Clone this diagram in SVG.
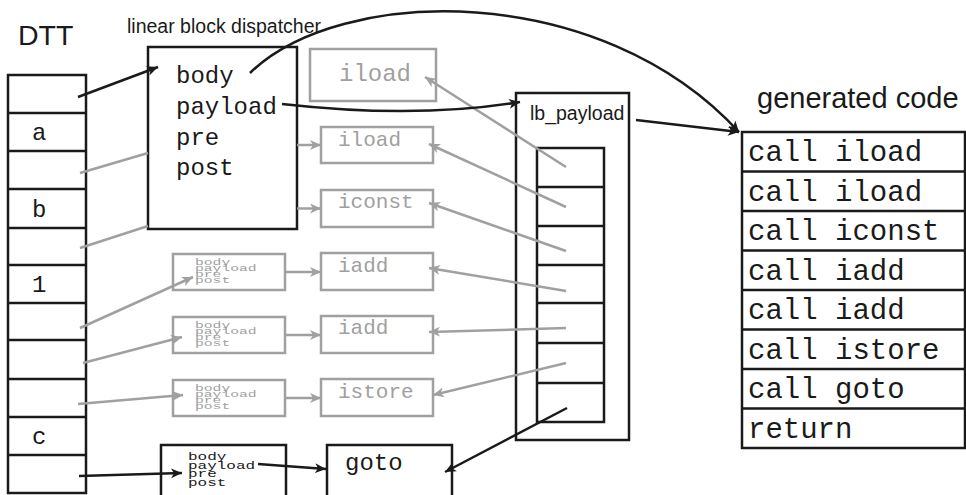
<svg xmlns="http://www.w3.org/2000/svg" width="966" height="495" viewBox="0 0 966 495">
<defs>
<marker id="ab" markerUnits="userSpaceOnUse" markerWidth="14" markerHeight="12" refX="11" refY="5" orient="auto"><path d="M0,0 L11,5 L0,10 L3,5 z" fill="#1a1a1a"/></marker>
<marker id="ag" markerUnits="userSpaceOnUse" markerWidth="14" markerHeight="12" refX="11" refY="5" orient="auto"><path d="M0,0 L11,5 L0,10 L3,5 z" fill="#a0a0a0"/></marker>
</defs>
<style>
.bk{fill:none;stroke:#1a1a1a;stroke-width:2.5}
.gr{fill:none;stroke:#a0a0a0;stroke-width:2.5}
.sans{font-family:"Liberation Sans",Arial,sans-serif;fill:#1a1a1a}
.mono{font-family:"Liberation Mono","Courier New",monospace;fill:#1a1a1a}
.gt{fill:#a0a0a0}
.cb{stroke:#1a1a1a;stroke-width:2.5;fill:none;marker-end:url(#ab)}
.cg{stroke:#a0a0a0;stroke-width:2.5;fill:none;marker-end:url(#ag)}
.lg{stroke:#a0a0a0;stroke-width:2.5;fill:none}
</style>
<rect width="966" height="495" fill="#ffffff"/>

<g id="dtt">
<text class="sans" x="18" y="45" font-size="28.5">DTT</text>
<rect class="bk" x="8" y="75" width="78" height="418"/>
<path class="bk" d="M8,113H86M8,151H86M8,189H86M8,228H86M8,265H86M8,303H86M8,340H86M8,379H86M8,417H86M8,455H86"/>
<g class="mono" font-size="24">
<text x="32" y="140">a</text>
<text x="32" y="217">b</text>
<text x="32" y="292">1</text>
<text x="32" y="444">c</text>
</g>
</g>

<g id="lbd">
<text class="sans" x="127" y="33" font-size="19.5">linear block dispatcher</text>
<rect class="bk" x="148" y="47" width="149" height="182"/>
<g class="mono" font-size="24">
<text x="176" y="83">body</text>
<text x="176" y="114">payload</text>
<text x="176" y="145">pre</text>
<text x="176" y="175">post</text>
</g>
</g>

<g id="iload1">
<rect class="gr" x="310" y="49" width="126" height="52"/>
<text class="mono gt" x="339" y="81" font-size="24">iload</text>
</g>
<g id="iload2">
<rect class="gr" x="321" y="127" width="112" height="36"/>
<text class="mono gt" x="338" y="146" font-size="21">iload</text>
</g>
<g id="iconst">
<rect class="gr" x="321" y="190" width="112" height="37"/>
<text class="mono gt" x="338" y="208" font-size="21">iconst</text>
</g>
<g id="iadd1">
<rect class="gr" x="321" y="253" width="112" height="37"/>
<text class="mono gt" x="338" y="272" font-size="21">iadd</text>
</g>
<g id="iadd2">
<rect class="gr" x="321" y="316" width="112" height="37"/>
<text class="mono gt" x="338" y="334" font-size="21">iadd</text>
</g>
<g id="istore">
<rect class="gr" x="321" y="379" width="112" height="37"/>
<text class="mono gt" x="338" y="398" font-size="21">istore</text>
</g>
<g id="goto">
<rect class="bk" x="327" y="445" width="125" height="60"/>
<text class="mono" x="345" y="470" font-size="24">goto</text>
</g>

<g id="sb1">
<rect class="gr" x="173" y="254" width="112" height="36"/>
<g class="mono gt" font-size="14.7">
<text transform="translate(195,265) scale(1,0.6)">body</text>
<text transform="translate(195,271) scale(1,0.6)">payload</text>
<text transform="translate(195,277) scale(1,0.6)">pre</text>
<text transform="translate(195,283) scale(1,0.6)">post</text>
</g>
</g>
<g id="sb2">
<rect class="gr" x="173" y="317" width="112" height="36"/>
<g class="mono gt" font-size="14.7">
<text transform="translate(195,328) scale(1,0.6)">body</text>
<text transform="translate(195,334) scale(1,0.6)">payload</text>
<text transform="translate(195,340) scale(1,0.6)">pre</text>
<text transform="translate(195,346) scale(1,0.6)">post</text>
</g>
</g>
<g id="sb3">
<rect class="gr" x="173" y="380" width="112" height="36"/>
<g class="mono gt" font-size="14.7">
<text transform="translate(195,391) scale(1,0.6)">body</text>
<text transform="translate(195,397) scale(1,0.6)">payload</text>
<text transform="translate(195,403) scale(1,0.6)">pre</text>
<text transform="translate(195,409) scale(1,0.6)">post</text>
</g>
</g>
<g id="sb4">
<rect class="bk" x="161" y="445" width="125" height="60"/>
<g class="mono" font-size="16">
<text transform="translate(188,460) scale(1,0.7)">body</text>
<text transform="translate(188,468.5) scale(1,0.7)">payload</text>
<text transform="translate(188,477) scale(1,0.7)">pre</text>
<text transform="translate(188,486) scale(1,0.7)">post</text>
</g>
</g>

<g id="lb_payload">
<rect class="bk" x="516" y="93" width="113" height="347"/>
<text class="sans" x="530" y="120" font-size="19.5">lb_payload</text>
<rect class="bk" x="537" y="148" width="67" height="274"/>
<path class="bk" d="M537,187H604M537,226H604M537,265H604M537,303H604M537,343H604M537,383H604"/>
</g>

<g id="generated">
<text class="sans" x="757" y="108" font-size="29">generated code</text>
<rect class="bk" x="742" y="132" width="223" height="316"/>
<path class="bk" d="M742,171.5H965M742,211H965M742,250.5H965M742,290H965M742,329.5H965M742,369H965M742,408.5H965"/>
<g class="mono" font-size="29">
<text x="748" y="161">call iload</text>
<text x="748" y="200.5">call iload</text>
<text x="748" y="240">call iconst</text>
<text x="748" y="279.5">call iadd</text>
<text x="748" y="319">call iadd</text>
<text x="748" y="358.5">call istore</text>
<text x="748" y="398">call goto</text>
<text x="748" y="437.5">return</text>
</g>
</g>

<g id="connectors">
<path class="lg" d="M80,173L148,153"/>
<path class="lg" d="M80,248L148,226"/>
<path class="cg" d="M80,328L193,277"/>
<path class="cg" d="M83,363L182,337"/>
<path class="cg" d="M78,404L183,395"/>
<path class="cg" d="M297,145L321,145"/>
<path class="cg" d="M297,208.5L321,208.5"/>
<path class="cg" d="M285,272L321,272"/>
<path class="cg" d="M285,335L321,335"/>
<path class="cg" d="M285,398L321,398"/>
<path class="cg" d="M566,167L425,77"/>
<path class="cg" d="M566,207L429,144"/>
<path class="cg" d="M566,251L429,203"/>
<path class="cg" d="M566,291L429,268"/>
<path class="cg" d="M566,328L429,332"/>
<path class="cg" d="M566,363L433,395"/>
<path class="cb" d="M567,408L445,472"/>
<path class="cb" d="M78,97L158,67"/>
<path class="cb" d="M79,476L182,473"/>
<path class="cb" d="M258,464L326,469"/>
<path class="cb" d="M250,73C340,-15 600,-20 739,132"/>
<path class="cb" d="M282,104C380,115 460,112 520,102"/>
<path class="cb" d="M636,120L739,132"/>
</g>
</svg>
